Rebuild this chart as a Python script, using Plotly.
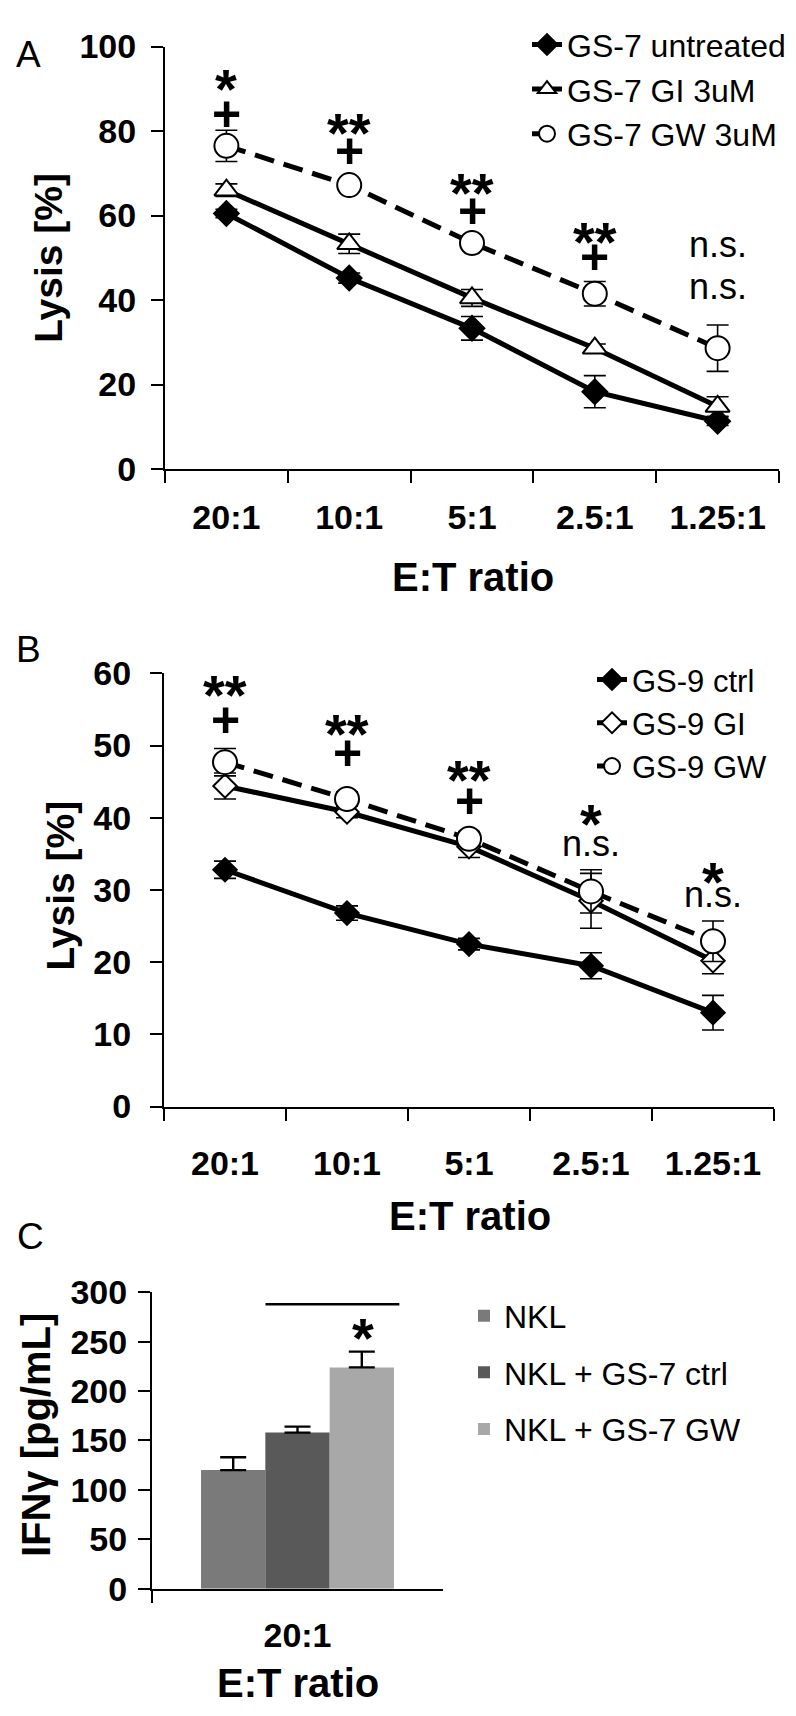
import plotly.graph_objects as go

# ---------------- data ----------------
ratios = ["20:1", "10:1", "5:1", "2.5:1", "1.25:1"]

# Panel A
a_untreated = [60.5, 45.2, 33.3, 18.3, 11.3]
a_untreated_err = [1.0, 1.2, 2.8, 3.8, 1.0]
a_gi = [66.0, 53.3, 40.5, 28.6, 14.8]
a_gi_err = [1.5, 2.3, 2.0, 1.0, 2.3]
a_gw = [76.5, 67.2, 53.5, 41.5, 28.6]
a_gw_err = [3.7, 1.0, 1.0, 2.9, 5.5]
a_sig_top = ["*", "**", "**", "**", "n.s."]
a_sig_top_y = [93.0, 82.6, 68.3, 56.7, 53.2]
a_sig_bot = ["+", "+", "+", "+", "n.s."]
a_sig_bot_y = [84.0, 75.2, 61.0, 50.2, 43.3]

# Panel B
b_ctrl = [32.8, 26.8, 22.5, 19.5, 13.0]
b_ctrl_err = [1.2, 1.0, 0.8, 1.8, 2.4]
b_gi = [44.4, 40.8, 36.0, 28.5, 20.2]
b_gi_err = [1.8, 0.8, 1.5, 3.8, 1.8]
b_gw = [47.7, 42.6, 37.1, 29.8, 22.9]
b_gw_err = [1.9, 1.0, 1.0, 3.0, 2.8]
b_sig_top = ["**", "**", "**", "*", "*"]
b_sig_top_y = [58.8, 53.4, 46.9, 40.8, 32.8]
b_sig_bot = ["+", "+", "+", "n.s.", "n.s."]
b_sig_bot_y = [53.5, 49.0, 42.3, 36.4, 29.4]

# Panel C
c_cat = ["20:1"]
c_names = ["NKL", "NKL + GS-7 ctrl", "NKL + GS-7 GW"]
c_vals = [120, 158, 224]
c_err = [13, 6, 16]
c_colors = ["#7a7a7a", "#595959", "#a8a8a8"]
c_bracket_x = [-0.11, 0.35]
c_bracket_y = 288
c_star_x = 0.225
c_star_y = 266

# ---------------- layout helpers ----------------
W, H = 796, 1716
FONT = "Liberation Sans, Arial, sans-serif"


def px_x(p):
    return p / W


def px_y(p):
    return 1 - p / H


fig = go.Figure()

LW = 5
ERR = dict(type="data", color="black", thickness=1.6, width=11)


def add_series(name, y, err, xa, ya, legend, symbol, fill, size, dash, group):
    fig.add_trace(go.Scatter(
        x=ratios, y=y, name=name, mode="lines+markers",
        xaxis=xa, yaxis=ya, legend=legend, legendgroup=group,
        line=dict(color="black", width=LW, dash=dash),
        marker=dict(symbol=symbol, size=size, color=fill,
                    line=dict(color="black", width=2)),
        error_y=dict(array=err, **ERR),
    ))


DASH = "20px,10px"
add_series("GS-7 untreated", a_untreated, a_untreated_err, "x", "y", "legend",
           "diamond", "black", 19, "solid", "a1")
add_series("GS-7 GI 3uM", a_gi, a_gi_err, "x", "y", "legend",
           "triangle-up", "white", 21, "solid", "a2")
add_series("GS-7 GW 3uM", a_gw, a_gw_err, "x", "y", "legend",
           "circle", "white", 24, DASH, "a3")

add_series("GS-9 ctrl", b_ctrl, b_ctrl_err, "x2", "y2", "legend2",
           "diamond", "black", 18, "solid", "b1")
add_series("GS-9 GI", b_gi, b_gi_err, "x2", "y2", "legend2",
           "diamond", "white", 18, "solid", "b2")
add_series("GS-9 GW", b_gw, b_gw_err, "x2", "y2", "legend2",
           "circle", "white", 24, DASH, "b3")

for name, v, e, col in zip(c_names, c_vals, c_err, c_colors):
    fig.add_trace(go.Bar(
        x=c_cat, y=[v], name=name, marker=dict(color=col, line=dict(width=0)),
        xaxis="x3", yaxis="y3", legend="legend3", legendgroup=name,
        error_y=dict(type="data", symmetric=False, array=[e], arrayminus=[0],
                     color="black", thickness=2.4, width=13),
    ))

# ---------------- axes ----------------
TICKFONT = dict(family=FONT, size=34, color="black", weight="bold")


def xaxis(dom, rng, anchor, standoff):
    return dict(domain=[px_x(dom[0]), px_x(dom[1])], range=rng, anchor=anchor,
                type="category", tickson="boundaries", ticks="outside",
                ticklen=12, tickwidth=2, tickcolor="black", showline=True,
                linewidth=2, linecolor="black", showgrid=False, zeroline=False,
                tickfont=TICKFONT, ticklabelstandoff=standoff, fixedrange=True)


def yaxis(dom, rng, dtick, anchor, standoff):
    return dict(domain=[px_y(dom[1]), px_y(dom[0])], range=rng, anchor=anchor,
                dtick=dtick, ticks="outside", ticklen=12, tickwidth=2,
                tickcolor="black", showline=True, linewidth=2,
                linecolor="black", showgrid=False, zeroline=False,
                tickfont=TICKFONT, ticklabelstandoff=standoff, fixedrange=True)


def legend_style(size, gap):
    return dict(bgcolor="rgba(0,0,0,0)", borderwidth=0,
                font=dict(family=FONT, size=size, color="black"),
                xanchor="left", yanchor="top", itemsizing="trace",
                traceorder="grouped", tracegroupgap=gap)


fig.update_layout(
    width=W, height=H, autosize=False,
    margin=dict(l=0, r=0, t=0, b=0),
    paper_bgcolor="white", plot_bgcolor="white",
    showlegend=True,
    font=dict(family=FONT, color="black"),
    xaxis=xaxis((157, 771), [-0.5, 4.5], "y", 17),
    yaxis=yaxis((20, 452), [0, 100], 20, "x", 8),
    xaxis2=xaxis((156, 766), [-0.5, 4.5], "y2", 26),
    yaxis2=yaxis((661, 1104), [0, 60], 10, "x2", 12),
    xaxis3=xaxis((144, 435), [-0.5, 0.5], "y3", 16),
    yaxis3=yaxis((1294, 1597), [0, 300], 50, "x3", 4),
    barmode="group", bargap=0.337, bargroupgap=0,
    legend=dict(x=px_x(519), y=px_y(-10), **legend_style(32, 0)),
    legend2=dict(x=px_x(584), y=px_y(640), **legend_style(31, 0)),
    legend3=dict(x=px_x(456), y=px_y(1290), **legend_style(32, 12)),
)

# ---------------- annotations ----------------
ann = []


def text_ann(x, y, text, size, bold=False, angle=0):
    ann.append(dict(xref="paper", yref="paper", x=px_x(x), y=px_y(y),
                    text=text, showarrow=False, textangle=angle,
                    xanchor="center", yanchor="middle",
                    font=dict(family=FONT, size=size, color="black",
                              weight="bold" if bold else "normal")))


# panel letters
text_ann(20, 28, "A", 37)
text_ann(20, 637, "B", 37)
text_ann(22, 1237, "C", 37)
# axis titles
text_ann(41, 236, "Lysis [%]", 39, True, -90)
text_ann(53, 878, "Lysis [%]", 39, True, -90)
text_ann(28, 1440, "IFNγ [pg/mL]", 40, True, -90)
text_ann(465, 562, "E:T ratio", 40, True)
text_ann(462, 1216, "E:T ratio", 40, True)
text_ann(290, 1693, "E:T ratio", 40, True)


def sig_style(t):
    if t == "+":
        return dict(size=50, weight="bold"), 0
    if t.startswith("*"):
        return dict(size=56, weight="bold"), -12
    return dict(size=36, weight="normal"), 0


for xs, ya, labels, ys in [("x", "y", a_sig_top, a_sig_top_y),
                           ("x", "y", a_sig_bot, a_sig_bot_y),
                           ("x2", "y2", b_sig_top, b_sig_top_y),
                           ("x2", "y2", b_sig_bot, b_sig_bot_y)]:
    for cat, t, yv in zip(ratios, labels, ys):
        f, ys_ = sig_style(t)
        ann.append(dict(xref=xs, yref=ya, x=cat, y=yv, text=t, showarrow=False,
                        xanchor="center", yanchor="middle", yshift=ys_,
                        font=dict(family=FONT, color="black", **f)))

f, ys_ = sig_style("*")
ann.append(dict(xref="x3", yref="y3", x=c_star_x, y=c_star_y, text="*",
                showarrow=False, xanchor="center", yanchor="middle", yshift=ys_,
                font=dict(family=FONT, color="black", **f)))

fig.update_layout(annotations=ann)
fig.add_shape(type="line", xref="x3", yref="y3",
              x0=c_bracket_x[0], x1=c_bracket_x[1], y0=c_bracket_y, y1=c_bracket_y,
              line=dict(color="black", width=2.5))

fig.write_html("out.html")
